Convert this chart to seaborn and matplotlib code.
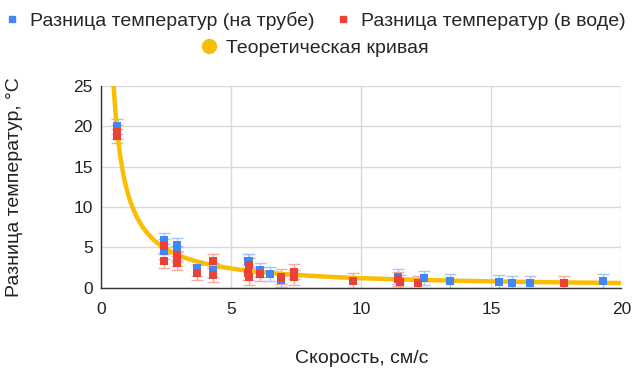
import numpy as np
import pandas as pd
import seaborn as sns
import matplotlib.pyplot as plt
from matplotlib.lines import Line2D

# data
pipe_x = [0.6, 2.4, 2.4, 2.9, 2.9, 3.7, 4.3, 5.65, 5.7, 6.1, 6.5, 6.9, 11.4, 12.4, 13.4, 15.3, 15.8, 16.5, 19.3]
pipe_y = [20.0, 5.9, 4.5, 5.3, 4.3, 2.4, 2.2, 3.3, 3.3, 2.2, 1.7, 1.0, 1.4, 1.2, 0.8, 0.7, 0.6, 0.6, 0.8]

water_x = [0.6, 0.6, 2.4, 2.4, 2.9, 2.9, 2.9, 3.7, 4.3, 4.3, 5.65, 5.7, 5.7, 6.1, 6.9, 7.4, 7.4, 9.7, 11.4, 11.5, 12.2, 17.8]
water_y = [19.3, 18.8, 5.2, 3.3, 4.1, 3.6, 3.1, 1.9, 3.3, 1.6, 1.9, 2.8, 1.3, 1.7, 1.4, 2.0, 1.3, 0.9, 1.1, 0.7, 0.6, 0.6]

curve_x = [0.48, 0.52, 0.56, 0.6, 0.65, 0.7, 0.8, 0.9, 1.0, 1.1, 1.24, 1.4, 1.6, 1.8, 2.0, 2.2,
           2.5, 2.8, 3.2, 3.6, 4.0, 4.5, 5.0, 5.5, 6.0, 7.0, 8.0, 9.0, 10.0, 12.0, 14.0, 16.0, 18.0, 20.0]
curve_y = [25.0, 23.1, 21.4, 20.0, 18.5, 17.1, 15.0, 13.3, 12.0, 10.9, 9.7, 8.6, 7.5, 6.7, 6.0, 5.45,
           4.8, 4.3, 3.75, 3.33, 3.0, 2.67, 2.4, 2.18, 2.0, 1.71, 1.5, 1.33, 1.2, 1.0, 0.86, 0.75, 0.67, 0.6]

err = 0.9

blue = '#4285F4'
red = '#EA4335'
yellow = '#FBBC04'

sns.set_theme(style='whitegrid')
plt.rcParams['font.family'] = ['Liberation Sans', 'DejaVu Sans']

fig = plt.figure(figsize=(6.32, 3.70), dpi=100)
ax = fig.add_axes([0.16, 0.222, 0.823, 0.546])

df_pipe = pd.DataFrame({'x': pipe_x, 'y': pipe_y})
df_water = pd.DataFrame({'x': water_x, 'y': water_y})
df_curve = pd.DataFrame({'x': curve_x, 'y': curve_y})

ax.errorbar(df_pipe.x, df_pipe.y, yerr=err, fmt='none', ecolor='#a8c6fa',
            elinewidth=1, capsize=4, capthick=1, zorder=2)
ax.errorbar(df_water.x, df_water.y, yerr=err, fmt='none', ecolor='#f5aaa3',
            elinewidth=1, capsize=4, capthick=1, zorder=2)

sns.lineplot(data=df_curve, x='x', y='y', color=yellow, linewidth=3.2, ax=ax, zorder=3, sort=True)
sns.scatterplot(data=df_pipe, x='x', y='y', marker='s', color=blue, s=28, linewidth=0, ax=ax, zorder=4)
sns.scatterplot(data=df_water, x='x', y='y', marker='s', color=red, s=28, linewidth=0, ax=ax, zorder=5)

ax.set_xlim(0, 20)
ax.set_ylim(0, 25)
ax.set_xticks([0, 5, 10, 15, 20])
ax.set_yticks([0, 5, 10, 15, 20, 25])
ax.grid(True, color='#d9d9d9', linewidth=1)
for s in ['top', 'right']:
    ax.spines[s].set_visible(False)
for s in ['left', 'bottom']:
    ax.spines[s].set_color('#333333')
    ax.spines[s].set_linewidth(1)
ax.tick_params(axis='both', labelsize=12.5, colors='#222222', length=0, pad=6)
ax.tick_params(axis='x', pad=10)

ax.set_xlabel('Скорость, см/с', fontsize=14, color='#222222', labelpad=0)
ax.xaxis.set_label_coords(0.5, -0.31)
ax.set_ylabel('Разница температур, °C', fontsize=14, color='#222222')
ax.yaxis.set_label_coords(-0.15, 0.5)

h1 = [Line2D([], [], marker='s', color=blue, linestyle='none', markersize=5),
      Line2D([], [], marker='s', color=red, linestyle='none', markersize=5)]
leg1 = fig.legend(h1, ['Разница температур (на трубе)', 'Разница температур (в воде)'],
                  loc='center', bbox_to_anchor=(0.5, 0.945), ncol=2, frameon=False,
                  fontsize=14, handlelength=0.6, handletextpad=0.6, columnspacing=1.2)
h2 = [Line2D([], [], marker='o', color=yellow, linestyle='none', markersize=10)]
fig.legend(h2, ['Теоретическая кривая'], loc='center', bbox_to_anchor=(0.5, 0.87),
           frameon=False, fontsize=14, handlelength=0.6, handletextpad=0.6)

fig.savefig('out.png', dpi=100)
